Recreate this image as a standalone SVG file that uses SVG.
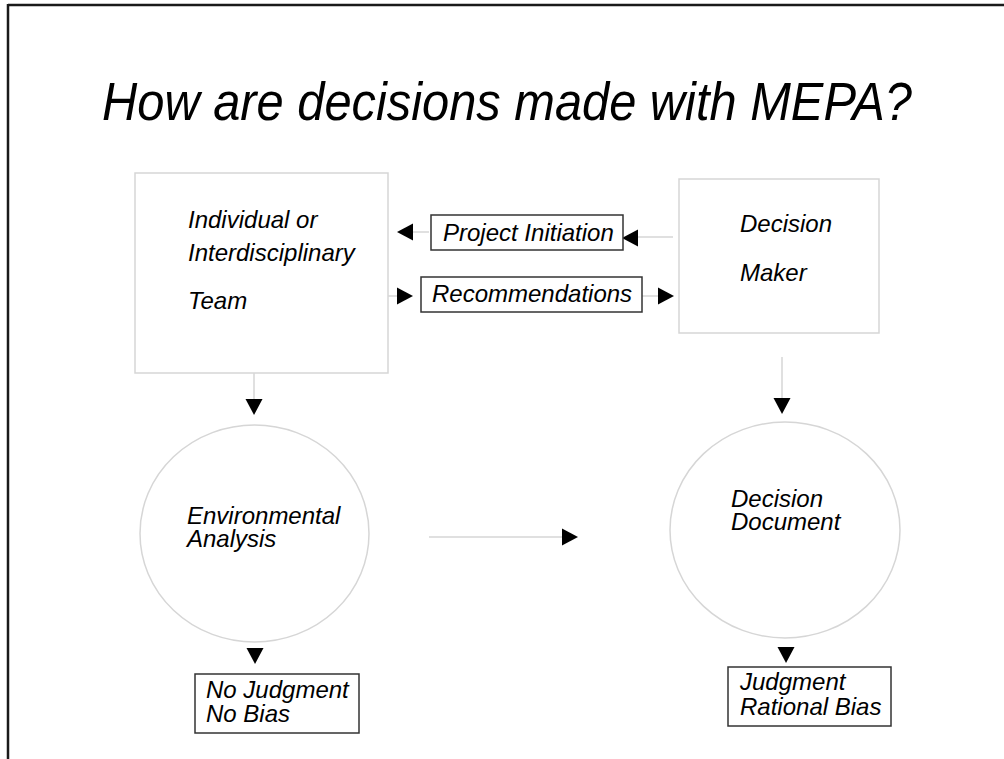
<svg xmlns="http://www.w3.org/2000/svg" width="1004" height="759" viewBox="0 0 1004 759">
<style>
.t{font-family:"Liberation Sans",Arial,sans-serif;font-style:italic;fill:#000}
.lbl{font-size:24px}
.node{fill:#fff;stroke:#d6d6d6;stroke-width:1.5}
.tag{fill:#fff;stroke:#333;stroke-width:1.5}
.con{stroke:#d6d6d6;stroke-width:1.5;fill:none}
.frame{stroke:#1a1a1a;stroke-width:2.5;fill:none}
</style>
<defs>
<path id="tri" d="M0,0 L-16,-8.5 L-16,8.5 Z" fill="#000"/>
</defs>
<rect width="1004" height="759" fill="#fff"/>
<g id="frame">
<line class="frame" x1="8" y1="5" x2="1004" y2="5"/>
<line class="frame" x1="8" y1="4" x2="8" y2="759"/>
</g>
<g id="title">
<text class="t" x="102" y="120" font-size="53" textLength="810" lengthAdjust="spacingAndGlyphs">How are decisions made with MEPA?</text>
</g>
<g id="connectors">
<line class="con" x1="413" y1="232" x2="429" y2="232"/>
<line class="con" x1="638" y1="237" x2="673" y2="237"/>
<line class="con" x1="388" y1="296" x2="398" y2="296"/>
<line class="con" x1="641" y1="296" x2="658" y2="296"/>
<line class="con" x1="254" y1="373" x2="254" y2="400"/>
<line class="con" x1="782" y1="357" x2="782" y2="398"/>
<line class="con" x1="429" y1="537" x2="563" y2="537"/>
<use href="#tri" transform="translate(397,232) rotate(180)"/>
<use href="#tri" transform="translate(622,238) rotate(180)"/>
<use href="#tri" transform="translate(413,296)"/>
<use href="#tri" transform="translate(674,296)"/>
<use href="#tri" transform="translate(254,415) rotate(90)"/>
<use href="#tri" transform="translate(782,414) rotate(90)"/>
<use href="#tri" transform="translate(255,664) rotate(90)"/>
<use href="#tri" transform="translate(786,663) rotate(90)"/>
<use href="#tri" transform="translate(578,537)"/>
</g>
<g id="team">
<rect class="node" x="135" y="173" width="253" height="200"/>
<text class="t lbl" x="188" y="228">Individual or</text>
<text class="t lbl" x="188" y="261">Interdisciplinary</text>
<text class="t lbl" x="188" y="309">Team</text>
</g>
<g id="decision-maker">
<rect class="node" x="679" y="179" width="200" height="154"/>
<text class="t lbl" x="740" y="232">Decision</text>
<text class="t lbl" x="740" y="281">Maker</text>
</g>
<g id="project-initiation">
<rect class="tag" x="431" y="215" width="192" height="35"/>
<text class="t lbl" x="443" y="241">Project Initiation</text>
</g>
<g id="recommendations">
<rect class="tag" x="421" y="277" width="221" height="35"/>
<text class="t lbl" x="432" y="302">Recommendations</text>
</g>
<g id="environmental-analysis">
<ellipse class="node" cx="254.5" cy="533.5" rx="114.5" ry="108.5"/>
<text class="t lbl"><tspan x="187" y="524">Environmental</tspan><tspan x="187" y="547">Analysis</tspan></text>
</g>
<g id="decision-document">
<ellipse class="node" cx="785" cy="530" rx="115" ry="108"/>
<text class="t lbl"><tspan x="731" y="507">Decision</tspan><tspan x="731" y="530">Document</tspan></text>
</g>
<g id="no-judgment">
<rect class="tag" x="195" y="674" width="164" height="59"/>
<text class="t lbl"><tspan x="206" y="698">No Judgment</tspan><tspan x="206" y="722">No Bias</tspan></text>
</g>
<g id="judgment">
<rect class="tag" x="728" y="667" width="163" height="59"/>
<text class="t lbl"><tspan x="740" y="690">Judgment</tspan><tspan x="740" y="715">Rational Bias</tspan></text>
</g>
</svg>
